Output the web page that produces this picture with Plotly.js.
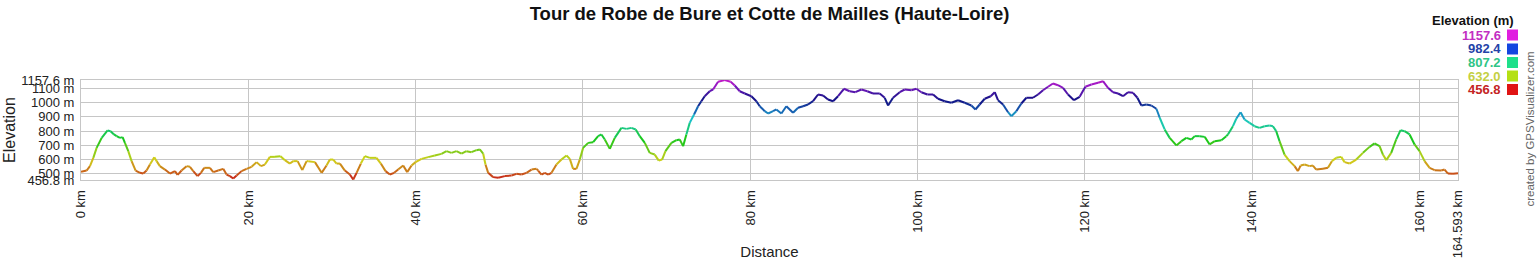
<!DOCTYPE html>
<html>
<head>
<meta charset="utf-8">
<script src="https://cdn.plot.ly/plotly-3.0.1.min.js"></script>
<style>html,body{margin:0;padding:0;background:#fff;}#chart{width:1537px;height:260px;}</style>
</head>
<body>
<div id="chart"></div>
<script>
// ---- data ----
const dist = [
0,0.67,1.07,1.47,1.87,2.47,3.18,3.54,3.94,4.26,4.66,4.97,5.25,5.65,6.05,6.53,7.05,7.44,7.84,8.24,8.76,9.04,9.43,10.03,10.63,11.23,11.55,12.02,12.62,13.02,13.42,13.94,14.33,14.73,15.41,15.81,16.40,17.00,17.40,17.80,18.20,18.60,19.19,19.79,20.39,20.99,21.51,21.98,22.58,23.18,23.85,24.37,24.97,25.37,25.89,26.45,26.97,
27.16,27.96,28.76,29.35,29.75,30.15,30.55,30.95,31.54,32.14,32.54,32.94,33.45,33.93,34.53,35.32,35.84,36.40,36.92,37.43,37.91,38.51,38.99,39.51,39.99,40.70,41.50,42.29,43.09,43.69,44.28,44.88,45.48,46.07,46.67,47.27,47.67,48.07,48.35,48.67,49.26,49.86,50.66,51.46,52.05,52.65,53.25,53.85,54.45,
54.64,55.04,55.44,55.84,56.24,56.83,57.43,58.03,58.43,58.82,59.22,59.62,60.02,60.62,61.22,61.81,62.21,62.61,63.21,63.80,64.60,65.20,65.79,66.31,66.79,67.39,67.98,68.58,69.06,69.46,69.86,70.57,71.17,71.57,71.97,72.36,72.76,73.28,73.76,74.15,74.55,75.15,75.55,76.15,76.94,77.66,78.14,78.74,79.34,80.13,80.73,81.13,81.73,
82.13,82.72,83.12,83.72,84.31,85.11,85.71,86.31,86.90,87.50,88.10,88.70,89.29,89.89,90.49,91.20,91.88,92.56,93.28,93.99,94.67,95.47,96.07,96.47,97.06,97.86,98.46,99.26,99.85,100.45,101.17,101.85,102.44,103.24,104.04,104.83,105.63,106.43,106.91,107.42,108.02,108.74,109.22,
109.61,110.21,110.81,111.20,111.80,112.40,113.00,113.79,114.39,114.99,115.59,116.18,116.78,117.38,117.98,118.69,119.37,120.05,120.77,121.57,122.16,122.76,123.36,123.96,124.55,125.15,125.75,126.27,126.75,127.34,127.94,128.54,128.94,129.53,130.13,130.93,131.53,132.12,132.72,133.12,133.72,134.32,134.91,135.51,136.31,136.90,
137.09,137.69,138.09,138.60,139.08,139.68,140.27,140.87,141.47,142.07,142.47,142.86,143.26,143.86,144.46,145.06,145.46,145.78,146.26,146.85,147.25,147.65,148.45,149.05,149.52,150.04,150.64,151.03,151.63,152.43,153.23,154.02,154.62,155.22,155.62,156.02,156.61,157.21,157.73,158.21,158.81,159.40,160.00,160.60,161.20,161.80,162.59,162.99,163.39,163.99,164.593
];
const elev = [
514,523,554,612,682,752,804,799,776,764,752,757,717,659,589,523,507,502,523,565,617,589,554,530,502,519,493,523,554,549,519,484,507,542,542,512,523,535,495,484,467,488,519,535,549,582,554,565,619,619,624,596,572,589,589,526,589,
589,582,507,558,600,600,572,572,523,495,460,507,572,624,612,612,572,519,495,507,530,558,512,558,582,605,617,628,640,659,647,659,642,659,652,666,671,642,565,507,477,472,484,488,500,495,507,530,535,
523,495,507,495,507,565,600,628,605,535,535,600,682,717,722,764,776,741,675,752,822,815,822,811,764,717,647,635,593,600,659,717,736,741,694,776,857,916,974,1009,1044,1079,1091,1145,1157,1145,1119,1079,1063,1044,1009,974,939,
923,939,951,923,974,928,963,974,986,1009,1056,1049,1021,1009,1044,1096,1079,1072,1091,1079,1063,1063,1033,979,1033,1072,1091,1086,1096,1072,1056,1056,1026,1009,998,1016,998,979,951,986,1026,1044,1072,
1016,986,932,904,939,993,1033,1033,1056,1086,1110,1133,1121,1103,1056,1016,1040,1110,1126,1138,1149,1103,1072,1063,1044,1072,1068,1033,979,986,979,956,893,811,752,699,729,752,741,764,764,759,706,729,736,764,
776,834,886,932,881,857,834,822,834,839,834,799,729,635,589,554,519,558,565,554,558,530,535,542,589,612,619,582,572,600,647,689,713,694,635,596,647,741,806,799,776,706,659,589,542,526,523,530,502,500,505
];
const yTickVals = [456.8,500,600,700,800,900,1000,1100,1157.6];
const yTickText = ['456.8 m','500 m','600 m','700 m','800 m','900 m','1000 m','1100 m','1157.6 m'];
const xTickVals = [0,20,40,60,80,100,120,140,160,164.593];
const xTickText = ['0 km','20 km','40 km','60 km','80 km','100 km','120 km','140 km','160 km','164.593 km'];
const legendVals = ['1157.6','982.4','807.2','632.0','456.8'];
const legendTextColors = ['#c22ec2','#2443a8','#2fc486','#c4d043','#c42424'];
const legendSwatch = ['#e01ee0','#1446e0','#1ee08a','#b4e014','#e01414'];
const titleText = 'Tour de Robe de Bure et Cotte de Mailles (Haute-Loire)';

// ---- geometry ----
const W = 1537, H = 260;
const M = {l:81, r:79, t:80, b:80};
const PW = W - M.l - M.r, PH = H - M.t - M.b;
const px = x => (x - M.l) / PW;         // pixel -> paper x
const py = y => (H - M.b - y) / PH;     // pixel -> paper y

const EMIN = 456.8, EMAX = 1157.6;
function colorFor(e){
  let t = Math.max(0, Math.min(1, (e - EMIN) / (EMAX - EMIN)));
  const h = 300 * t;
  const L = 44 - 14 * Math.exp(-Math.pow((h - 240) / 28, 2)) + 2*Math.exp(-Math.pow((h-60)/25,2));
  return 'hsl(' + h.toFixed(1) + ',78%,' + L.toFixed(1) + '%)';
}

// group segments by colour bin
const NB = 80;
const bins = [];
for (let i = 0; i < dist.length - 1; i++) {
  const m = (elev[i] + elev[i+1]) / 2;
  const b = Math.round((m - EMIN) / (EMAX - EMIN) * (NB - 1));
  if (!bins[b]) bins[b] = {x: [], y: [], c: colorFor(EMIN + b / (NB - 1) * (EMAX - EMIN))};
  bins[b].x.push(dist[i], dist[i+1], null);
  bins[b].y.push(elev[i], elev[i+1], null);
}
const traces = [];
bins.forEach(b => { if (b) traces.push({
  type: 'scatter', mode: 'lines', x: b.x, y: b.y, connectgaps: false,
  line: {color: b.c, width: 2}, hoverinfo: 'skip', showlegend: false
}); });

const font = 'Arial, "Liberation Sans", sans-serif';
const annotations = [
  {text: '<b>Elevation (m)</b>', xref: 'paper', yref: 'paper', x: px(1516), y: py(21), xanchor: 'right', yanchor: 'middle', showarrow: false, font: {family: font, size: 13, color: '#111'}},
  {text: 'created by GPSVisualizer.com', xref: 'paper', yref: 'paper', x: px(1529.5), y: py(129), xanchor: 'center', yanchor: 'middle', textangle: -90, showarrow: false, font: {family: font, size: 11.5, color: '#666'}}
];
const shapes = [];
const rowY = [35, 49, 62.5, 76, 89.5];
legendVals.forEach((v, i) => {
  annotations.push({text: '<b>' + v + '</b>', xref: 'paper', yref: 'paper', x: px(1503), y: py(rowY[i]), xanchor: 'right', yanchor: 'middle', showarrow: false, font: {family: font, size: 13, color: legendTextColors[i]}});
  shapes.push({type: 'rect', xref: 'paper', yref: 'paper', x0: px(1507), x1: px(1518), y0: py(rowY[i] + 5.5), y1: py(rowY[i] - 5.5), fillcolor: legendSwatch[i], line: {width: 0}});
});

const layout = {
  width: W, height: H,
  margin: M,
  paper_bgcolor: '#fff', plot_bgcolor: '#fff',
  showlegend: false,
  hovermode: false,
  title: {text: '<b>' + titleText + '</b>', x: 0.5, xref: 'paper', y: 1 - 14 / H, yref: 'container', yanchor: 'middle', font: {family: font, size: 18.5, color: '#111'}},
  xaxis: {
    range: [0, 164.593], tickmode: 'array', tickvals: xTickVals, ticktext: xTickText,
    tickangle: -90, tickfont: {family: font, size: 13, color: '#222'},
    showgrid: true, gridcolor: '#c6c6c6', gridwidth: 1, zeroline: false,
    showline: true, linecolor: '#c6c6c6', mirror: true, ticks: '', ticklabelstandoff: 4,
    title: {text: 'Distance', font: {family: font, size: 15, color: '#222'}, standoff: 8}
  },
  yaxis: {
    range: [EMIN, EMAX], tickmode: 'array', tickvals: yTickVals, ticktext: yTickText,
    tickfont: {family: font, size: 13, color: '#222'},
    showgrid: true, gridcolor: '#c6c6c6', gridwidth: 1, zeroline: false,
    showline: true, linecolor: '#c6c6c6', mirror: true, ticks: '', ticklabelstandoff: 3,
    title: {text: 'Elevation', font: {family: font, size: 16, color: '#222'}, standoff: 1}
  },
  annotations: annotations,
  shapes: shapes
};
Plotly.newPlot('chart', traces, layout, {displayModeBar: false, staticPlot: true});
</script>
</body>
</html>
